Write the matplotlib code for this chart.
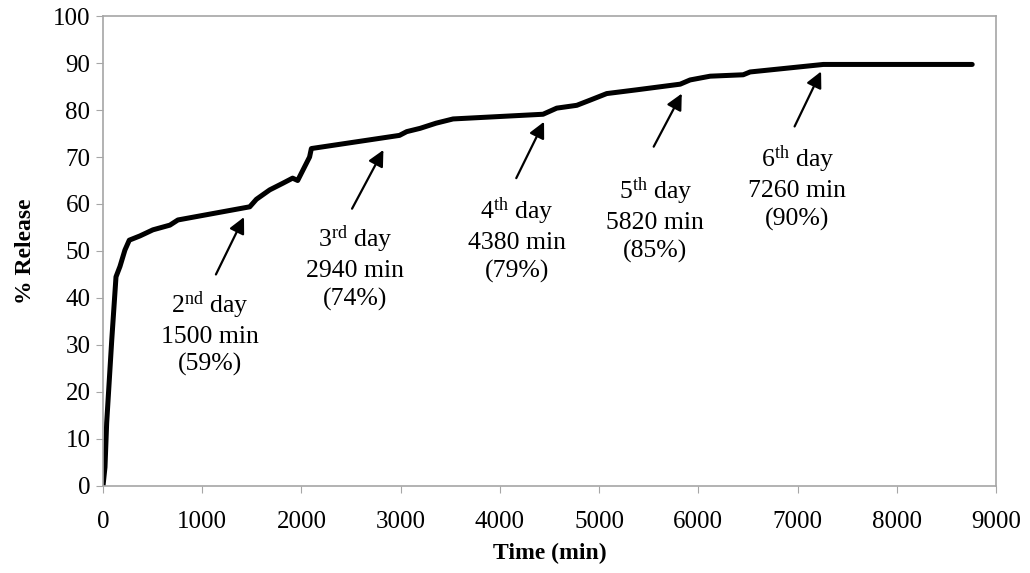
import numpy as np
import matplotlib
matplotlib.use('Agg')
import matplotlib.pyplot as plt

plt.rcParams['font.family'] = ['Liberation Serif', 'DejaVu Serif']

# cumulative release
time_min = [0, 20, 37, 88, 131, 171, 221, 265, 372, 503, 674, 755, 1479, 1546,
            1680, 1811, 1911, 1962, 2082, 2100, 2988, 3061, 3196, 3357, 3528,
            4435, 4573, 4775, 4909, 5077, 5379, 5817, 5917, 6119, 6452, 6522,
            7260, 8760]
release = [0, 4, 13.4, 31, 44.5, 46.7, 50.2, 52.3, 53.2, 54.5, 55.5, 56.6, 59.4, 61,
           63, 64.4, 65.5, 65, 70, 71.8, 74.6, 75.4, 76.1, 77.2, 78.1,
           79.1, 80.4, 81, 82.1, 83.5, 84.3, 85.5, 86.4, 87.2, 87.5, 88.1,
           89.7, 89.7]

# annotations: day, superscript, minutes, percent
days = ['2', '3', '4', '5', '6']
sups = ['nd', 'rd', 'th', 'th', 'th']
ann_min = [1500, 2940, 4380, 5820, 7260]
ann_pct = [59, 74, 79, 85, 90]
# arrow tips / tails and text centres (data coords)
tip_x = [1421, 2826, 4445, 5833, 7237]
tip_y = [57.2, 71.5, 77.5, 83.5, 88.2]
tail_x = [1138, 2510, 4165, 5550, 6970]
tail_y = [45.0, 59.0, 65.5, 72.2, 76.5]
txt_x = [1079, 2540, 4173, 5565, 6996]
txt_y = [41.8, 55.8, 61.8, 66.0, 72.8]

fig = plt.figure(figsize=(10.30, 5.73), dpi=100)
ax = fig.add_axes([0.1, 0.152, 0.867, 0.82])

ax.plot(time_min, release, color='black', lw=3.6, solid_capstyle='round',
        solid_joinstyle='round')

for i in range(len(days)):
    ax.annotate('', xy=(tip_x[i], tip_y[i]), xytext=(tail_x[i], tail_y[i]),
                arrowprops=dict(arrowstyle='-|>', color='black', lw=1.6,
                                mutation_scale=24, shrinkA=0, shrinkB=0))
    label = (r'$\mathregular{' + days[i] + '^{' + sups[i] + r'}}$ day' + '\n'
             + str(ann_min[i]) + ' min\n(' + str(ann_pct[i]) + '%)')
    ax.text(txt_x[i], txt_y[i], label, ha='center', va='top', fontsize=18.5,
            linespacing=1.3)

ax.set_xlim(0, 9000)
ax.set_ylim(0, 100)
ax.set_xticks(np.arange(0, 9001, 1000))
ax.set_yticks(np.arange(0, 101, 10))
ax.tick_params(direction='out', length=5, color='#a6a6a6', labelsize=18, pad=4)
ax.tick_params(axis='x', pad=13)
for s in ax.spines.values():
    s.set_color('#a6a6a6')
    s.set_linewidth(1.2)

ax.set_xlabel('Time (min)', fontsize=17, fontweight='bold', labelpad=7)
ax.set_ylabel('% Release', fontsize=17, fontweight='bold', labelpad=12)

plt.savefig('out.png', dpi=100)
